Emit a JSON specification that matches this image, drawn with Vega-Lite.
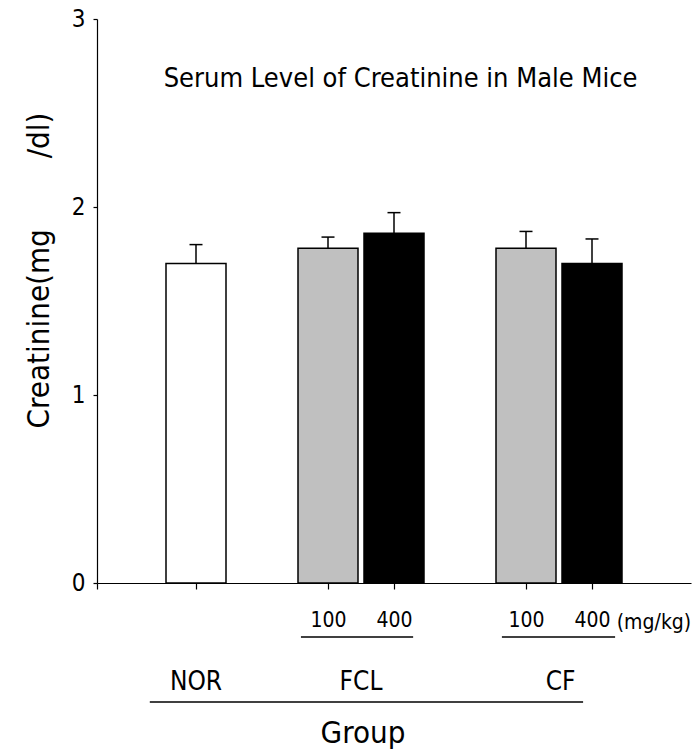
{
  "$schema": "https://vega.github.io/schema/vega-lite/v6.json",
  "autosize": {"type": "none"},
  "padding": {"left": 97, "top": 19, "right": 1, "bottom": 167},
  "width": 594,
  "height": 564,
  "background": "white",
  "config": {
    "view": {"stroke": null},
    "font": "DejaVu Sans Condensed, Liberation Sans Narrow, Liberation Sans, Arial, sans-serif"
  },
  "datasets": {
    "bars": [
      {"group": "NOR", "dose": "NOR", "slot": 3, "mean": 1.70, "upper": 1.80},
      {"group": "FCL", "dose": "100", "slot": 7, "mean": 1.78, "upper": 1.84},
      {"group": "FCL", "dose": "400", "slot": 9, "mean": 1.86, "upper": 1.97},
      {"group": "CF", "dose": "100", "slot": 13, "mean": 1.78, "upper": 1.87},
      {"group": "CF", "dose": "400", "slot": 15, "mean": 1.70, "upper": 1.83}
    ],
    "groupLabels": [
      {"label": "NOR", "x": 3, "y": -0.57},
      {"label": "FCL", "x": 8, "y": -0.57},
      {"label": "CF", "x": 14.05, "y": -0.57}
    ],
    "brackets": [
      {"x": 6.18, "x2": 9.58, "y": -0.287},
      {"x": 12.27, "x2": 15.7, "y": -0.287},
      {"x": 1.6, "x2": 14.73, "y": -0.633}
    ]
  },
  "layer": [
    {
      "data": {"name": "bars"},
      "mark": {"type": "rule", "color": "black", "strokeWidth": 1.5},
      "encoding": {
        "x": {"field": "slot", "type": "quantitative"},
        "y": {"field": "mean", "type": "quantitative"},
        "y2": {"field": "upper"}
      }
    },
    {
      "data": {"name": "bars"},
      "mark": {"type": "tick", "orient": "horizontal", "size": 13, "thickness": 1.5, "color": "black", "opacity": 1},
      "encoding": {
        "x": {"field": "slot", "type": "quantitative"},
        "y": {"field": "upper", "type": "quantitative"}
      }
    },
    {
      "data": {"name": "bars"},
      "mark": {"type": "bar", "size": 60, "stroke": "black", "strokeWidth": 1.5, "opacity": 1},
      "encoding": {
        "x": {
          "field": "slot",
          "type": "quantitative",
          "scale": {"domain": [0, 18], "nice": false, "zero": false, "padding": 0},
          "axis": {
            "title": null,
            "values": [0, 3, 7, 9, 13, 15],
            "labelExpr": "datum.value == 7 || datum.value == 13 ? '100' : (datum.value == 9 || datum.value == 15 ? '400' : '')",
            "grid": false,
            "domainColor": "black",
            "domainWidth": 1.2,
            "tickColor": "black",
            "tickWidth": 1.2,
            "tickSize": 6,
            "labelFontSize": 21,
            "labelColor": "black",
            "labelPadding": 20,
            "labelFlush": false,
            "labelOverlap": false,
            "labelBound": false
          }
        },
        "y": {
          "field": "mean",
          "type": "quantitative",
          "scale": {"domain": [0, 3], "nice": false, "padding": 0},
          "axis": {
            "values": [0, 1, 2, 3],
            "format": "d",
            "grid": false,
            "domainColor": "black",
            "domainWidth": 1.2,
            "tickColor": "black",
            "tickWidth": 1.2,
            "tickSize": 4,
            "labelFontSize": 24,
            "labelColor": "black",
            "labelPadding": 8,
            "title": "Creatinine(mg\u00a0\u00a0\u00a0\u00a0\u00a0\u00a0\u00a0\u00a0/dl)",
            "titleFontSize": 31,
            "titleFontWeight": "normal",
            "titleColor": "black",
            "titleAngle": 270,
            "titleAlign": "center",
            "titleBaseline": "alphabetic",
            "titleX": -49,
            "titleY": 251
          }
        },
        "fill": {
          "field": "dose",
          "type": "nominal",
          "scale": {"domain": ["NOR", "100", "400"], "range": ["white", "#c0c0c0", "black"]},
          "legend": null
        }
      }
    },
    {
      "data": {"values": [{"label": "Serum Level of Creatinine in Male Mice", "x": 9.2, "y": 2.64}]},
      "mark": {"type": "text", "fontSize": 27, "align": "center", "baseline": "alphabetic", "color": "black"},
      "encoding": {
        "x": {"field": "x", "type": "quantitative"},
        "y": {"field": "y", "type": "quantitative"},
        "text": {"field": "label"}
      }
    },
    {
      "data": {"name": "groupLabels"},
      "mark": {"type": "text", "fontSize": 26, "align": "center", "baseline": "alphabetic", "color": "black"},
      "encoding": {
        "x": {"field": "x", "type": "quantitative"},
        "y": {"field": "y", "type": "quantitative"},
        "text": {"field": "label"}
      }
    },
    {
      "data": {"values": [{"label": "(mg/kg)", "x": 15.75, "y": -0.245}]},
      "mark": {"type": "text", "fontSize": 21, "align": "left", "baseline": "alphabetic", "color": "black"},
      "encoding": {
        "x": {"field": "x", "type": "quantitative"},
        "y": {"field": "y", "type": "quantitative"},
        "text": {"field": "label"}
      }
    },
    {
      "data": {"values": [{"label": "Group", "x": 8.06, "y": -0.85}]},
      "mark": {"type": "text", "fontSize": 31, "align": "center", "baseline": "alphabetic", "color": "black"},
      "encoding": {
        "x": {"field": "x", "type": "quantitative"},
        "y": {"field": "y", "type": "quantitative"},
        "text": {"field": "label"}
      }
    },
    {
      "data": {"name": "brackets"},
      "mark": {"type": "rule", "color": "black", "strokeWidth": 1.5},
      "encoding": {
        "x": {"field": "x", "type": "quantitative"},
        "x2": {"field": "x2"},
        "y": {"field": "y", "type": "quantitative"}
      }
    }
  ]
}
